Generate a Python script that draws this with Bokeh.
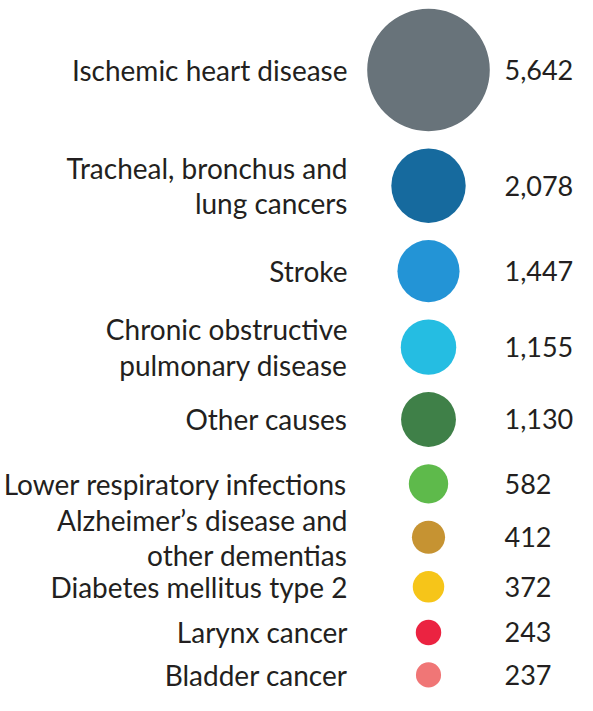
from bokeh.plotting import figure
from bokeh.models import Range1d, ColumnDataSource
from bokeh.embed import file_html
from bokeh.resources import INLINE
from bokeh.core.properties import value
import numpy as np

# ---- data ----
causes = [
    "Ischemic heart disease",
    "Tracheal, bronchus and\nlung cancers",
    "Stroke",
    "Chronic obstructive\npulmonary disease",
    "Other causes",
    "Lower respiratory infections",
    "Alzheimer\u2019s disease and\nother dementias",
    "Diabetes mellitus type 2",
    "Larynx cancer",
    "Bladder cancer",
]
deaths = [5642, 2078, 1447, 1155, 1130, 582, 412, 372, 243, 237]
colors = ["#68737A", "#166A9E", "#2394D6", "#25BDE2", "#3F8048",
          "#5EBA4B", "#C69332", "#F6C519", "#EB2341", "#F07676"]

# ---- layout (pixel coordinates of the picture) ----
W, H = 577, 695
MAX_D = 122.6            # diameter of largest bubble in px
GAP = 17.2               # vertical gap between bubbles
TOP = 8.2
CX = 428                 # bubble centre x
LABEL_X = 347            # right edge of labels
NUM_X = 504              # left edge of numbers
FONT = "Lato"
TXT = "#231F20"

vals = np.array(deaths, dtype=float)
diam = MAX_D * np.sqrt(vals / vals.max())
rad = diam / 2
ys = []
y = TOP
for i, r in enumerate(rad):
    y = y + r if i == 0 else y + rad[i - 1] + GAP + r
    ys.append(y)

src = ColumnDataSource(dict(
    x=[CX] * len(deaths), y=ys, size=diam, color=colors,
    label=causes, num=[f"{v:,}" for v in deaths],
    lx=[LABEL_X] * len(deaths), nx=[NUM_X] * len(deaths),
))

p = figure(width=W, height=H, output_backend="svg", toolbar_location=None,
           x_range=Range1d(0, W), y_range=Range1d(H, 0),
           min_border=0, outline_line_color=None)
p.axis.visible = False
p.grid.visible = False
p.background_fill_color = "white"
p.border_fill_color = "white"

p.scatter(x="x", y="y", size="size", fill_color="color", line_color=None, source=src)
p.text(x="lx", y="y", text="label", source=src, text_align="right",
       text_baseline="middle", text_font=value(FONT), text_font_size="28px",
       text_color=TXT, text_line_height=1.04)
p.text(x="nx", y="y", text="num", source=src, text_align="left",
       text_baseline="middle", text_font=value(FONT), text_font_size="27px",
       text_color=TXT)

open("out.html", "w").write(file_html(p, INLINE))
